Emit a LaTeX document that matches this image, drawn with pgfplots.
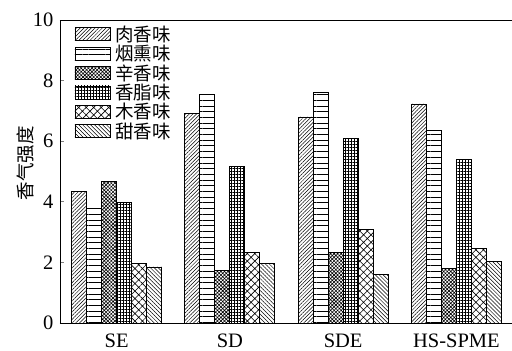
\documentclass[border=0pt]{standalone}
\usepackage{pgfplots}
\pgfplotsset{compat=1.18}
\usetikzlibrary{patterns.meta}
\usepackage{fontspec}
\setmainfont{Liberation Serif}
\newfontfamily\cjk{Noto Sans CJK SC}
\begin{document}
\begin{tikzpicture}
\begin{axis}[
  at={(0,0)}, anchor=south west,
  scale only axis, width=453pt, height=303pt,
  xmin=-0.5, xmax=3.5, ymin=0, ymax=10,
  axis x line=box, axis y line=left,
  axis line style={-, line width=0.8pt},
  ytick={0,2,4,6,8,10},
  xtick={0,1,2,3}, xticklabels={SE,SD,SDE,HS-SPME},
  tick align=inside, major tick length=4pt,
  x tick style={draw=none},
  y tick style={line width=0.7pt},
  /pgf/number format/assume math mode=true,
  tick label style={font=\fontsize{20.5}{22}\selectfont},
  yticklabel style={xshift=-3pt},
  xticklabel style={yshift=-3.5pt},
  ylabel={\cjk 香气强度},
  ylabel style={at={(rel axis cs:0,0.528)}, anchor=center, yshift=35pt, font=\fontsize{18.5}{20}\selectfont},
  ybar=0pt, bar width=15pt,
  legend style={at={(rel axis cs:0.025,0.995)}, anchor=north west, draw=none, fill=none,
    font=\cjk\fontsize{18.5}{20}\selectfont, row sep=-1.6pt,
    /tikz/every odd column/.append style={column sep=3pt}},
  legend cell align=left,
  legend image code/.code={\draw[#1] (0pt,-6.5pt) rectangle (35pt,6.5pt);},
  every axis plot/.append style={draw=black, line width=0.8pt},
]
\addplot[pattern={Lines[angle=45,distance=2.6pt,line width=0.5pt]}] coordinates {(0,4.35) (1,6.92) (2,6.80) (3,7.23)};
\addplot[pattern={Lines[angle=0,distance=5.7pt,line width=0.6pt]}] coordinates {(0,3.79) (1,7.56) (2,7.61) (3,6.36)};
\addplot[pattern={Hatch[angle=45,distance=2.5pt,line width=0.6pt]}] coordinates {(0,4.66) (1,1.72) (2,2.34) (3,1.79)};
\addplot[pattern={Hatch[angle=0,distance=3pt,line width=0.4pt]}] coordinates {(0,3.98) (1,5.17) (2,6.10) (3,5.41)};
\addplot[pattern={Hatch[angle=45,distance=5.3pt,line width=0.6pt]}] coordinates {(0,1.97) (1,2.34) (2,3.09) (3,2.46)};
\addplot[pattern={Lines[angle=-45,distance=2.8pt,line width=0.5pt]}] coordinates {(0,1.85) (1,1.97) (2,1.60) (3,2.02)};
\legend{肉香味,烟熏味,辛香味,香脂味,木香味,甜香味}
\end{axis}
\pgfresetboundingbox
\path[use as bounding box] (-60pt,-28pt) rectangle (452pt,323pt);
\end{tikzpicture}
\end{document}
